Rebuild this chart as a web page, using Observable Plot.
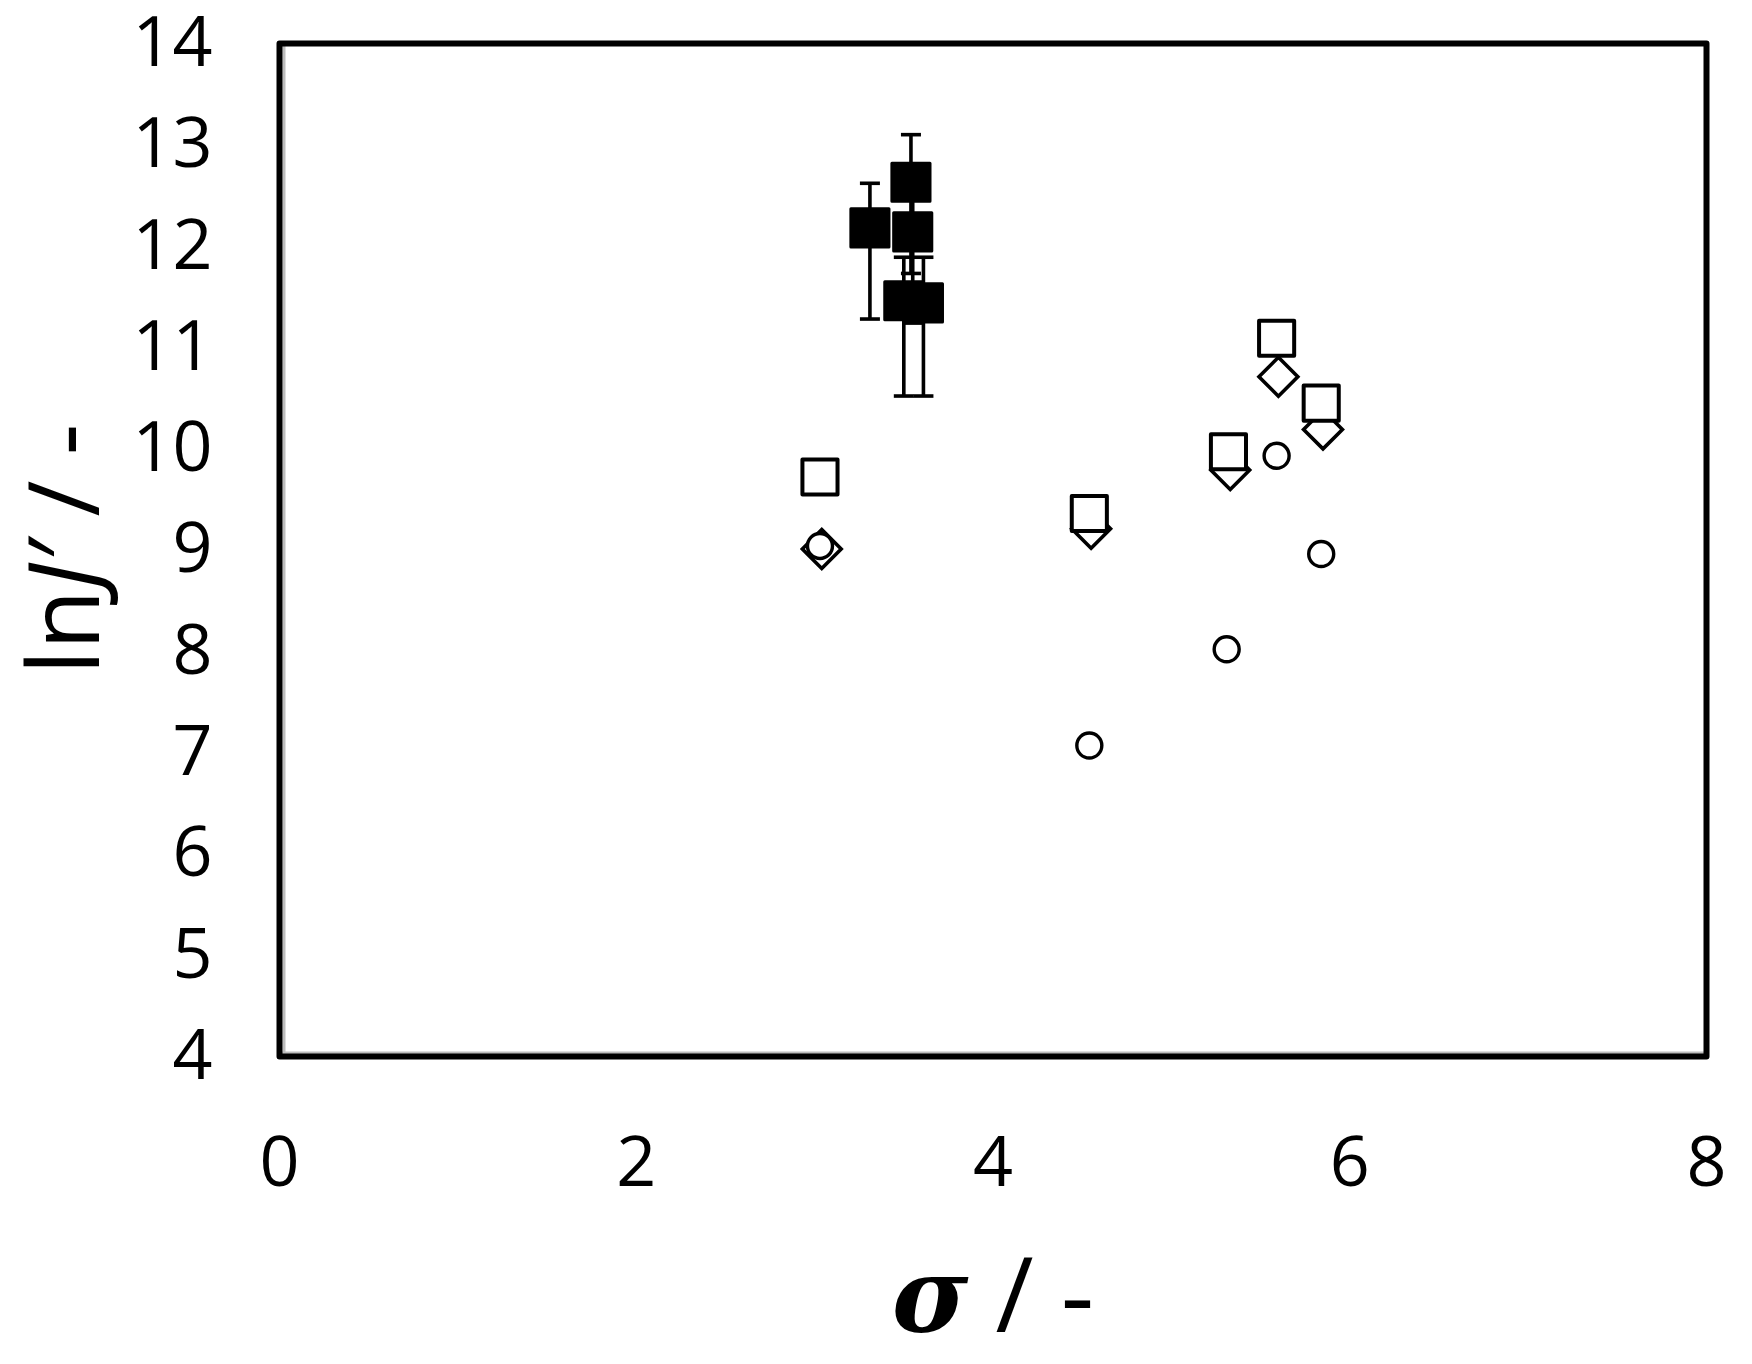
<!DOCTYPE html>
<html>
<head>
<meta charset="utf-8">
<script src="https://cdn.jsdelivr.net/npm/d3@7"></script>
<script src="https://cdn.jsdelivr.net/npm/@observablehq/plot@0.6"></script>
<style>
  html, body { margin: 0; padding: 0; background: white; }
  #chart svg { display: block; overflow: visible; }
</style>
</head>
<body>
<div id="chart"></div>
<script>
// Open squares
const sigmaSquare = [3.03, 4.54, 5.32, 5.59, 5.84];
const lnJSquare   = [9.72, 9.36, 9.97, 11.09, 10.45];
// Open diamonds
const sigmaDiamond = [3.04, 4.55, 5.33, 5.60, 5.85];
const lnJDiamond   = [9.01, 9.21, 9.79, 10.71, 10.19];
// Open circles
const sigmaCircle = [3.03, 4.54, 5.31, 5.59, 5.84];
const lnJCircle   = [9.04, 7.07, 8.02, 9.93, 8.96];
// Filled squares with error bars
const sigmaFilled = [3.31, 3.54, 3.55, 3.50, 3.61];
const lnJFilled   = [12.18, 12.63, 12.14, 11.46, 11.44];
const errHigh     = [12.62, 13.10, 12.58, 11.89, 11.89];
const errLow      = [11.28, 11.73, 11.24, 10.52, 10.52];

const xTicks = [0, 2, 4, 6, 8];
const yTicks = [4, 5, 6, 7, 8, 9, 10, 11, 12, 13, 14];

const zip = (xs, ys) => xs.map((x, i) => ({x, y: ys[i]}));
const squares = zip(sigmaSquare, lnJSquare);
const diamonds = zip(sigmaDiamond, lnJDiamond);
const circles = zip(sigmaCircle, lnJCircle);
const filled = sigmaFilled.map((x, i) => ({x, y: lnJFilled[i], hi: errHigh[i], lo: errLow[i]}));

const capSymbol = {
  draw(context) { context.moveTo(-10, 0); context.lineTo(10, 0); }
};

const chart = Plot.plot({
  width: 1752,
  height: 1364,
  marginLeft: 279,
  marginRight: 46,
  marginTop: 43,
  marginBottom: 308,
  x: {domain: [0, 8]},
  y: {domain: [4, 14]},
  style: {fontFamily: "'Open Sans', sans-serif", fontSize: "70px", background: "white", color: "black", overflow: "visible"},
  marks: [
    Plot.axisX({ticks: xTicks, tickSize: 0, tickPadding: 80, fontSize: 70, label: null}),
    Plot.axisY({ticks: yTicks, tickSize: 0, tickPadding: 67, fontSize: 70, label: null}),
    Plot.ruleX([0], {stroke: "#bdbdbd", strokeWidth: 3, dx: 4.5}),
    Plot.ruleY([4], {stroke: "#bdbdbd", strokeWidth: 3, dy: -3.5}),
    Plot.frame({stroke: "black", strokeWidth: 6, strokeLinejoin: "round"}),
    Plot.dot(diamonds, {x: "x", y: "y", symbol: "diamond2", r: 17.5, stroke: "black", strokeWidth: 3.6, fill: "white"}),
    Plot.dot(circles, {x: "x", y: "y", symbol: "circle", r: 12.5, stroke: "black", strokeWidth: 3.4, fill: "white"}),
    Plot.dot(squares, {x: "x", y: "y", symbol: "square", r: 19.8, stroke: "black", strokeWidth: 4, fill: "white", strokeLinejoin: "round"}),
    Plot.ruleX(filled, {x: "x", y1: "lo", y2: "hi", stroke: "black", strokeWidth: 3.6}),
    Plot.dot(filled, {x: "x", y: "hi", symbol: capSymbol, r: 5, stroke: "black", strokeWidth: 3.6}),
    Plot.dot(filled, {x: "x", y: "lo", symbol: capSymbol, r: 5, stroke: "black", strokeWidth: 3.6}),
    Plot.dot(filled, {x: "x", y: "y", symbol: "square", r: 21.5, stroke: "black", strokeWidth: 3, fill: "black", strokeLinejoin: "round"})
  ]
});

document.getElementById("chart").appendChild(chart);

const svg = d3.select(chart);
// Y axis title
const yt = svg.append("text")
  .attr("transform", "translate(99,549) rotate(-90)")
  .attr("text-anchor", "middle")
  .attr("font-family", "'Open Sans', sans-serif")
  .attr("font-size", 98)
  .attr("fill", "black");
yt.append("tspan").text("ln");
yt.append("tspan").attr("font-style", "italic").text("J′");
yt.append("tspan").text(" / -");

// X axis title
const xt = svg.append("text")
  .attr("x", 993)
  .attr("y", 1332)
  .attr("text-anchor", "middle")
  .attr("font-family", "'Open Sans', sans-serif")
  .attr("font-size", 104)
  .attr("fill", "black");
xt.append("tspan").attr("font-family", "'DejaVu Serif', serif").attr("font-weight", "bold").attr("font-style", "italic").text("σ");
xt.append("tspan").text(" / -");
</script>
</body>
</html>
